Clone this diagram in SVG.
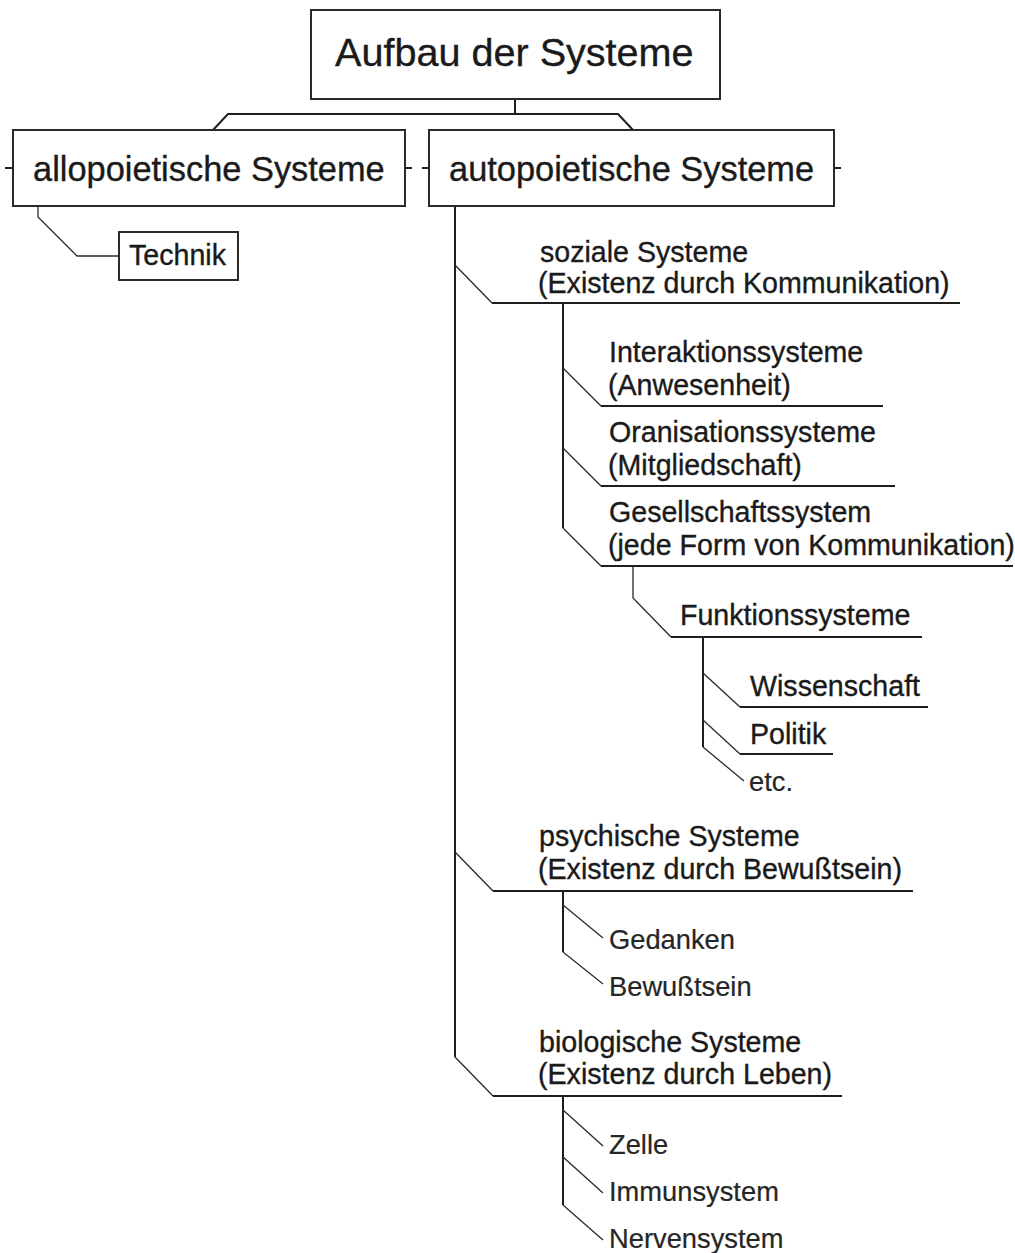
<svg xmlns="http://www.w3.org/2000/svg" width="1015" height="1253" viewBox="0 0 1015 1253">
  <style>
    text { font-family: "Liberation Sans", Arial, Helvetica, sans-serif; fill: #1a1a1a; stroke: #1a1a1a; stroke-width: 0.35; }
    .title { font-size: 39.6px; }
    .big { font-size: 34.4px; }
    .mid { font-size: 28.6px; }
    .leaf { font-size: 27.3px; fill: #262626; stroke: #262626; stroke-width: 0.2; }
    .box { fill: #ffffff; stroke: #2a2a2a; stroke-width: 2; }
    .trunk { fill: none; stroke: #1e1e1e; stroke-width: 2; }
    .rule { fill: none; stroke: #1e1e1e; stroke-width: 2; }
    .slant { fill: none; stroke: #2a2a2a; stroke-width: 1.3; }
  </style>
  <rect width="1015" height="1253" fill="#ffffff"/>

  <!-- connectors -->
  <g id="connectors">
    <!-- root to the two main branches -->
    <polyline class="trunk" points="515,100 515,114"/>
    <polyline class="trunk" points="213,130 228,114 618,114 633,130"/>
    <!-- side ticks on the main boxes -->
    <line class="trunk" x1="5" y1="168" x2="13" y2="168"/>
    <line class="trunk" x1="405" y1="168" x2="412" y2="168"/>
    <line class="trunk" x1="422" y1="168" x2="429" y2="168"/>
    <line class="trunk" x1="834" y1="168" x2="841" y2="168"/>
    <!-- allopoietic to Technik -->
    <polyline class="slant" points="38,207 38,217 77,256 119,256"/>
    <!-- autopoietic trunk -->
    <line class="trunk" x1="455" y1="207" x2="455" y2="1057"/>
    <!-- soziale Systeme -->
    <polyline class="slant" points="455,265 492,303"/>
    <line class="rule" x1="492" y1="303" x2="960" y2="303"/>
    <line class="trunk" x1="563" y1="303" x2="563" y2="528"/>
    <polyline class="slant" points="563,368 601,406"/>
    <line class="rule" x1="601" y1="406" x2="883" y2="406"/>
    <polyline class="slant" points="563,448 601,486"/>
    <line class="rule" x1="601" y1="486" x2="895" y2="486"/>
    <polyline class="slant" points="563,528 601,566"/>
    <line class="rule" x1="601" y1="566" x2="1013" y2="566"/>
    <!-- Funktionssysteme -->
    <polyline class="slant" points="633,566 633,598 671,637"/>
    <line class="rule" x1="671" y1="637" x2="922" y2="637"/>
    <line class="trunk" x1="703" y1="637" x2="703" y2="747"/>
    <polyline class="slant" points="703,673 740,707"/>
    <line class="rule" x1="740" y1="707" x2="928" y2="707"/>
    <polyline class="slant" points="703,720 740,754"/>
    <line class="rule" x1="740" y1="754" x2="833" y2="754"/>
    <polyline class="slant" points="703,747 744,781"/>
    <!-- psychische Systeme -->
    <polyline class="slant" points="455,852 493,891"/>
    <line class="rule" x1="493" y1="891" x2="913" y2="891"/>
    <line class="trunk" x1="563" y1="891" x2="563" y2="952"/>
    <polyline class="slant" points="563,905 603,938"/>
    <polyline class="slant" points="563,952 603,984"/>
    <!-- biologische Systeme -->
    <polyline class="slant" points="455,1057 493,1096"/>
    <line class="rule" x1="493" y1="1096" x2="842" y2="1096"/>
    <line class="trunk" x1="563" y1="1096" x2="563" y2="1205"/>
    <polyline class="slant" points="563,1110 603,1146"/>
    <polyline class="slant" points="563,1157 603,1193"/>
    <polyline class="slant" points="563,1205 603,1240"/>
  </g>

  <g id="root">
    <rect class="box" x="311" y="10" width="409" height="89"/>
    <text class="title" x="335" y="66">Aufbau der Systeme</text>
  </g>

  <g id="allopoietisch">
    <rect class="box" x="13" y="130" width="392" height="76"/>
    <text class="big" x="33" y="181">allopoietische Systeme</text>
  </g>

  <g id="technik">
    <rect class="box" x="119" y="232" width="119" height="48"/>
    <text class="mid" x="129" y="265">Technik</text>
  </g>

  <g id="autopoietisch">
    <rect class="box" x="429" y="130" width="405" height="76"/>
    <text class="big" x="449" y="181">autopoietische Systeme</text>
  </g>

  <g id="soziale">
    <text class="mid" x="540" y="262">soziale Systeme</text>
    <text class="mid" x="538" y="293">(Existenz durch Kommunikation)</text>
  </g>

  <g id="interaktion">
    <text class="mid" x="609" y="362">Interaktionssysteme</text>
    <text class="mid" x="608" y="395">(Anwesenheit)</text>
  </g>

  <g id="organisation">
    <text class="mid" x="609" y="442">Oranisationssysteme</text>
    <text class="mid" x="608" y="475">(Mitgliedschaft)</text>
  </g>

  <g id="gesellschaft">
    <text class="mid" x="609" y="522">Gesellschaftssystem</text>
    <text class="mid" x="608" y="555">(jede Form von Kommunikation)</text>
  </g>

  <g id="funktion">
    <text class="mid" x="680" y="625">Funktionssysteme</text>
  </g>

  <g id="wissenschaft">
    <text class="mid" x="750" y="696">Wissenschaft</text>
  </g>

  <g id="politik">
    <text class="mid" x="750" y="744">Politik</text>
  </g>

  <g id="etc">
    <text class="leaf" x="749" y="791">etc.</text>
  </g>

  <g id="psychische">
    <text class="mid" x="539" y="846">psychische Systeme</text>
    <text class="mid" x="538" y="879">(Existenz durch Bewußtsein)</text>
  </g>

  <g id="gedanken">
    <text class="leaf" x="609" y="949">Gedanken</text>
  </g>

  <g id="bewusstsein">
    <text class="leaf" x="609" y="996">Bewußtsein</text>
  </g>

  <g id="biologische">
    <text class="mid" x="539" y="1052">biologische Systeme</text>
    <text class="mid" x="538" y="1084">(Existenz durch Leben)</text>
  </g>

  <g id="zelle">
    <text class="leaf" x="609" y="1154">Zelle</text>
  </g>

  <g id="immunsystem">
    <text class="leaf" x="609" y="1201">Immunsystem</text>
  </g>

  <g id="nervensystem">
    <text class="leaf" x="609" y="1248">Nervensystem</text>
  </g>
</svg>
